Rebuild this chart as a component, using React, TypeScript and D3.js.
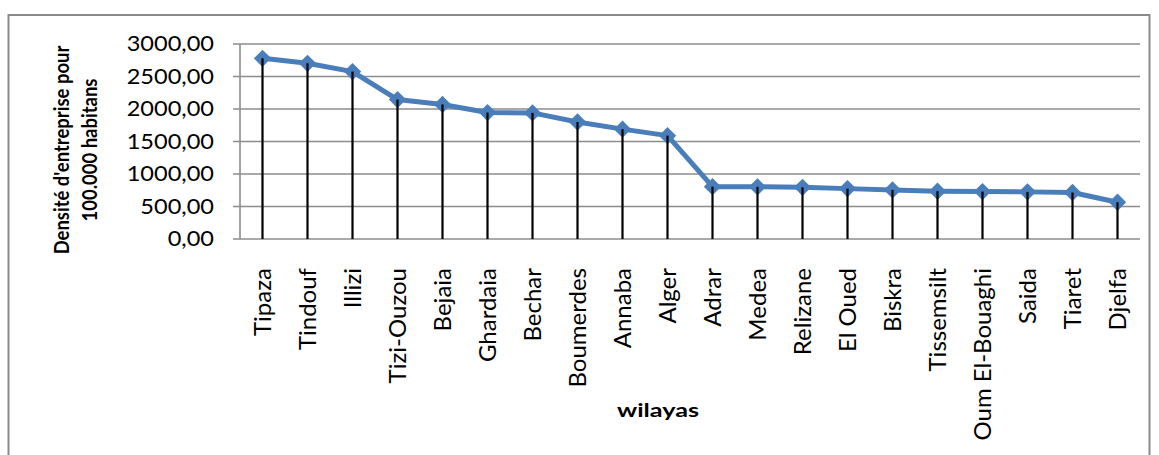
import React from "react";
import * as d3 from "d3";

// Business density per 100,000 inhabitants, by wilaya (sorted descending)
const wilayas: string[] = [
  "Tipaza", "Tindouf", "Illizi", "Tizi-Ouzou", "Bejaia", "Ghardaia", "Bechar",
  "Boumerdes", "Annaba", "Alger", "Adrar", "Medea", "Relizane", "El Oued",
  "Biskra", "Tissemsilt", "Oum El-Bouaghi", "Saida", "Tiaret", "Djelfa",
];
const densite: number[] = [
  2780, 2703, 2575, 2145, 2070, 1945, 1940, 1800, 1690, 1590,
  805, 803, 795, 775, 755, 735, 730, 725, 715, 565,
];
const yTicks: number[] = [0, 500, 1000, 1500, 2000, 2500, 3000];
const yTitleLines: string[] = ["Densité d'entreprise pour", "100.000 habitans"];
const xTitle = "wilayas";

const W = 1159;
const H = 455;
const plot = { left: 240, right: 1140, top: 44, bottom: 239 };

const BLUE = "#4A7EBB";
const GRID = "#8C8C8C";
const FONT = "Lato, 'Open Sans', sans-serif";

const fmt = (v: number) => v.toFixed(2).replace(".", ",");

export default function App() {
  const x = d3
    .scaleBand<string>()
    .domain(wilayas)
    .range([plot.left, plot.right])
    .paddingInner(0)
    .paddingOuter(0);
  const y = d3.scaleLinear().domain([0, 3000]).range([plot.bottom, plot.top]);

  const cx = (name: string) => (x(name) ?? 0) + x.bandwidth() / 2;
  const pts: [number, number][] = wilayas.map((w, i) => [cx(w), y(densite[i])]);

  const line = d3.line<[number, number]>()(pts) ?? "";
  const diamond = d3.symbol().type(d3.symbolSquare).size(150)() ?? "";

  return (
    <svg
      width={W}
      height={H}
      style={{ position: "absolute", left: 0, top: 0, background: "#fff" }}
      fontFamily={FONT}
    >
      {/* chart frame */}
      <rect x={8.5} y={15} width={1141} height={460} fill="#fff" stroke="#8A8A8A" strokeWidth={2} />

      {/* horizontal gridlines with left tick marks */}
      {yTicks.map((t) => (
        <line
          key={t}
          x1={plot.left - 7}
          x2={plot.right}
          y1={y(t)}
          y2={y(t)}
          stroke={GRID}
          strokeWidth={1.6}
        />
      ))}
      {/* value axis */}
      <line x1={plot.left} x2={plot.left} y1={plot.top} y2={plot.bottom} stroke={GRID} strokeWidth={1.6} />

      {/* value axis labels */}
      {yTicks.map((t) => (
        <text
          key={t}
          transform={`translate(214,${y(t)}) scale(1.15,1)`}
          dy="0.36em"
          textAnchor="end"
          fontSize={20.5}
          fill="#000"
        >
          {fmt(t)}
        </text>
      ))}

      {/* series line */}
      <path d={line} fill="none" stroke={BLUE} strokeWidth={5} strokeLinejoin="round" />
      {pts.map(([px, py], i) => (
        <path
          key={wilayas[i]}
          d={diamond}
          transform={`translate(${px},${py}) rotate(45)`}
          fill={BLUE}
        />
      ))}

      {/* drop lines from each point down to the axis */}
      {pts.map(([px, py], i) => (
        <line
          key={wilayas[i]}
          x1={px}
          x2={px}
          y1={py}
          y2={plot.bottom}
          stroke="#000"
          strokeWidth={2.2}
        />
      ))}

      {/* category labels */}
      {wilayas.map((w) => (
        <text
          key={w}
          transform={`translate(${cx(w)},268) rotate(-90)`}
          dy="0.36em"
          textAnchor="end"
          fontSize={24}
          fill="#000"
        >
          {w}
        </text>
      ))}

      {/* axis titles */}
      <text
        transform="translate(69,150) rotate(-90) scale(1,1.12)"
        textAnchor="middle"
        fontSize={18.5}
        fontWeight="bold"
        fill="#000"
      >
        {yTitleLines[0]}
      </text>
      <text
        transform="translate(97,150) rotate(-90) scale(1,1.12)"
        textAnchor="middle"
        fontSize={18.5}
        fontWeight="bold"
        fill="#000"
      >
        {yTitleLines[1]}
      </text>
      <text
        transform="translate(658,417) scale(1.4,1)"
        textAnchor="middle"
        fontSize={18}
        fontWeight="bold"
        fill="#000"
      >
        {xTitle}
      </text>
    </svg>
  );
}
